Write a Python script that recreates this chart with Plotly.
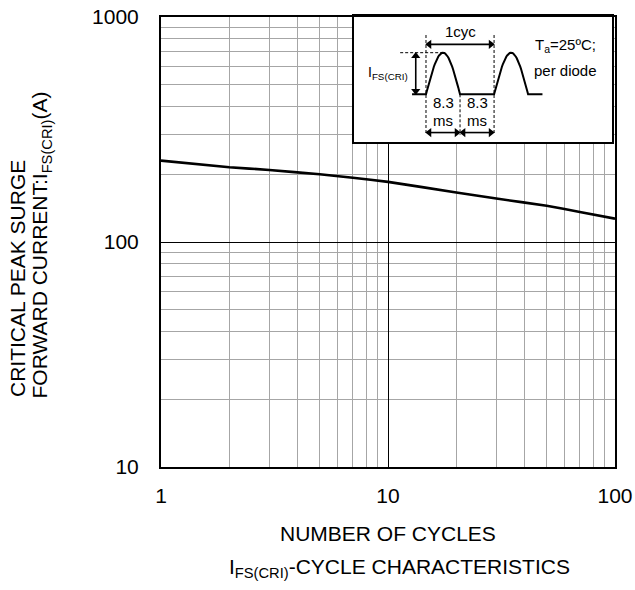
import numpy as np
import plotly.graph_objects as go

# ---- data ----
cycles = [1, 2, 3, 5, 7, 10, 20, 30, 50, 70, 100]
current = [230, 215, 209, 200, 193, 185, 166, 156, 145, 136, 127]

x_major = [1, 10, 100]
x_major_text = ["1", "10", "100"]
x_minor = [2, 3, 4, 5, 6, 7, 8, 9, 20, 30, 40, 50, 60, 70, 80, 90]
y_major = [10, 100, 1000]
y_major_text = ["10", "100", "1000"]
y_minor = [20, 30, 40, 50, 60, 70, 80, 90, 200, 300, 400, 500, 600, 700, 800, 900]

# inset waveform (half-sine pulses, 8.3 ms each, period 16.6 ms)
half_ms = 8.3
period_ms = 16.6

FONT = "Arial, Liberation Sans, sans-serif"

fig = go.Figure()

fig.add_trace(go.Scatter(
    x=cycles, y=current, mode="lines",
    line=dict(color="black", width=2.6, shape="spline", smoothing=0.3),
    showlegend=False, hoverinfo="skip"))

# inset waveform
tt = np.linspace(0, half_ms, 40)
wx = [-3.4] + list(tt) + [period_ms] + list(tt + period_ms) + [28.4]
wy = [0] + list(np.sin(np.pi * tt / half_ms)) + [0] + list(np.sin(np.pi * tt / half_ms)) + [0]
fig.add_trace(go.Scatter(x=wx, y=wy, mode="lines", xaxis="x2", yaxis="y2",
                         line=dict(color="black", width=2),
                         showlegend=False, hoverinfo="skip"))


def darrow(xs, ys, syms):
    fig.add_trace(go.Scatter(x=xs, y=ys, mode="lines+markers", xaxis="x2", yaxis="y2",
                             line=dict(color="black", width=1.6),
                             marker=dict(symbol=syms, size=8, color="black"),
                             showlegend=False, hoverinfo="skip"))


darrow([-2.5, -2.5], [0.08, 0.92], ["triangle-down", "triangle-up"])
darrow([0.8, period_ms - 0.8], [1.2, 1.2], ["triangle-left", "triangle-right"])
darrow([0.8, half_ms - 0.8], [-0.92, -0.92], ["triangle-left", "triangle-right"])
darrow([half_ms + 0.8, period_ms - 0.8], [-0.92, -0.92], ["triangle-left", "triangle-right"])

axis_common = dict(
    type="log", showline=True, linecolor="black", linewidth=2, mirror=True,
    showgrid=True, gridcolor="black", gridwidth=1, ticks="", automargin=False,
    tickfont=dict(family=FONT, size=21, color="black"), zeroline=False,
)

fig.update_layout(
    width=635, height=590,
    margin=dict(l=161, r=20, t=17, b=123),
    paper_bgcolor="white", plot_bgcolor="white",
    font=dict(family=FONT, color="black"),
    xaxis=dict(**axis_common, range=[0, 2], tickvals=x_major, ticktext=x_major_text,
               ticklabelstandoff=9,
               minor=dict(tickvals=x_minor, showgrid=True, gridcolor="#a6a6a6", gridwidth=1, ticks="")),
    yaxis=dict(**axis_common, range=[1, 3], tickvals=y_major, ticktext=y_major_text,
               ticklabelstandoff=16,
               minor=dict(tickvals=y_minor, showgrid=True, gridcolor="#a6a6a6", gridwidth=1, ticks="")),
    xaxis2=dict(domain=[0.4229, 0.9956], range=[-17.8, 45.6], anchor="y2",
                visible=False, fixedrange=True),
    yaxis2=dict(domain=[0.72, 1.0], range=[-1.171, 1.858], anchor="x2",
                visible=False, fixedrange=True),
)

shapes = []
# inset frame
shapes.append(dict(type="rect", xref="paper", yref="paper", x0=0.4229, x1=0.9956,
                   y0=0.72, y1=1.0044, line=dict(color="black", width=2), layer="above"))
dash = dict(color="black", width=1, dash="3px,2px")
for xv in [0, period_ms]:
    shapes.append(dict(type="line", xref="x2", yref="y2", x0=xv, x1=xv, y0=1.425, y1=-0.98, line=dash))
shapes.append(dict(type="line", xref="x2", yref="y2", x0=half_ms, x1=half_ms, y0=0, y1=-0.98, line=dash))
shapes.append(dict(type="line", xref="x2", yref="y2", x0=-6.3, x1=half_ms / 2, y0=1, y1=1, line=dash))
fig.update_layout(shapes=shapes)

ann = []
small = dict(family=FONT, size=15, color="black")


def itext(x, y, text, font=small):
    ann.append(dict(xref="x2", yref="y2", x=x, y=y, text=text, showarrow=False,
                    xanchor="center", yanchor="middle", font=font))


itext(half_ms, 1.5, "1cyc")
itext(half_ms / 2, -0.2, "8.3")
itext(half_ms / 2, -0.62, "ms")
itext(half_ms * 1.5, -0.2, "8.3")
itext(half_ms * 1.5, -0.62, "ms")
itext(-9.3, 0.5, "I<sub>FS(CRI)</sub>", dict(family=FONT, size=14, color="black"))
itext(33.9, 1.18, "T<sub>a</sub>=25ºC;")
itext(33.9, 0.58, "per diode")

big = dict(family=FONT, size=21, color="black")
ann.append(dict(xref="paper", yref="paper", x=-0.3172, y=0.42, text="CRITICAL PEAK SURGE",
                textangle=-90, showarrow=False, xanchor="center", yanchor="middle", font=big))
ann.append(dict(xref="paper", yref="paper", x=-0.2632, y=0.4933,
                text="FORWARD CURRENT:I<sub>FS(CRI)</sub>(A)",
                textangle=-90, showarrow=False, xanchor="center", yanchor="middle", font=big))
ann.append(dict(xref="paper", yref="paper", x=0.501, y=-0.147, text="NUMBER OF CYCLES",
                showarrow=False, xanchor="center", yanchor="middle", font=big))
ann.append(dict(xref="paper", yref="paper", x=0.526, y=-0.225,
                text="I<sub>FS(CRI)</sub>-CYCLE CHARACTERISTICS", showarrow=False,
                xanchor="center", yanchor="middle", font=big))
fig.update_layout(annotations=ann)

fig.write_html("out.html", config={"displayModeBar": False},
               post_script="document.body.style.margin='0px';")
